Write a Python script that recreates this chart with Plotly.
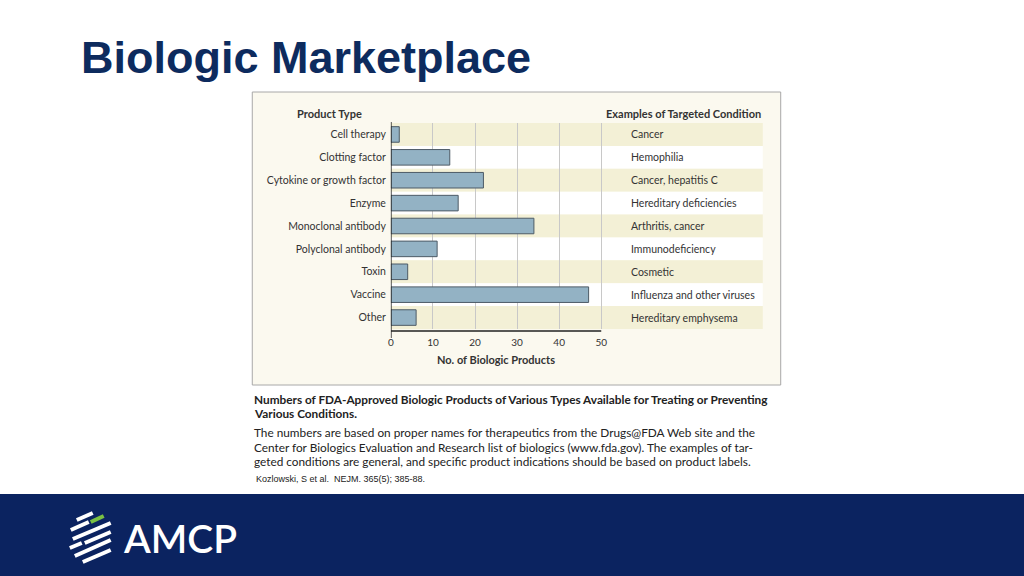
import plotly.graph_objects as go

product_types = ["Cell therapy", "Clotting factor", "Cytokine or growth factor", "Enzyme",
                 "Monoclonal antibody", "Polyclonal antibody", "Toxin", "Vaccine", "Other"]
counts = [2, 14, 22, 16, 34, 11, 4, 47, 6]
conditions = ["Cancer", "Hemophilia", "Cancer, hepatitis C", "Hereditary deficiencies",
              "Arthritis, cancer", "Immunodeficiency", "Cosmetic",
              "Influenza and other viruses", "Hereditary emphysema"]
x_ticks = [0, 10, 20, 30, 40, 50]

W, H = 1024, 576
def px(x): return x / W
def py(y): return 1 - y / H

chart_font = "Lato"
x0, x50, xr = 389, 600, 762
xmax = 50 * (xr - x0) / (x50 - x0)

fig = go.Figure()
fig.add_trace(go.Bar(
    x=counts, y=product_types, orientation="h", width=0.68,
    marker=dict(color="#93b2c4", line=dict(color="#4d5b66", width=1)),
    hoverinfo="x+y",
))

shapes = []
# panel
shapes.append(dict(type="rect", xref="paper", yref="paper", x0=px(250), x1=px(780), y0=py(385), y1=py(92),
                   fillcolor="#fbf9ef", line=dict(color="#a8a8a8", width=1), layer="below"))
# stripes
for i, name in enumerate(product_types):
    fill = "#f3f0d6" if i % 2 == 0 else "#ffffff"
    shapes.append(dict(type="rect", xref="paper", yref="y", x0=px(x0), x1=px(xr), y0=i - 0.5, y1=i + 0.5,
                       fillcolor=fill, line=dict(width=0), layer="below"))
# axis lines
shapes.append(dict(type="line", xref="x", yref="paper", x0=0, x1=50, y0=py(331), y1=py(331),
                   line=dict(color="#222", width=1.5)))
shapes.append(dict(type="line", xref="x", yref="paper", x0=0, x1=0, y0=py(338), y1=py(122),
                   line=dict(color="#222", width=1.5)))
# footer
shapes.append(dict(type="rect", xref="paper", yref="paper", x0=-0.01, x1=1.01, y0=-0.01, y1=py(494),
                   fillcolor="#0b2360", line=dict(width=0)))
# logo stripes
logo = [((74, 520), (90, 513), "white"), ((88, 522), (101, 516), "#7ac143"),
        ((68, 530), (86, 522), "white"), ((70, 539), (108, 523), "white"),
        ((67, 548), (79, 543), "white"), ((82, 543), (108, 532), "white"),
        ((72, 556), (108, 540), "white"), ((80, 562), (108, 550), "white")]
for (a, b, c) in logo:
    shapes.append(dict(type="line", xref="paper", yref="paper", x0=px(a[0]), y0=py(a[1]),
                       x1=px(b[0]), y1=py(b[1]), line=dict(color=c, width=4)))

ann = []
ann.append(dict(text="<b>Biologic Marketplace</b>", x=px(76), y=py(57), xref="paper", yref="paper",
                xanchor="left", yanchor="middle", showarrow=False,
                font=dict(family="Liberation Sans", size=45, color="#0d2b5e")))
ann.append(dict(text="<b>Product Type</b>", x=px(293), y=py(114), xref="paper", yref="paper",
                xanchor="left", yanchor="middle", showarrow=False,
                font=dict(family=chart_font, size=11, color="#333")))
ann.append(dict(text="<b>Examples of Targeted Condition</b>", x=px(762), y=py(114), xref="paper", yref="paper",
                xanchor="right", yanchor="middle", showarrow=False,
                font=dict(family=chart_font, size=11, color="#333")))
for i, c in enumerate(conditions):
    ann.append(dict(text=c, x=px(628), y=product_types[i], xref="paper", yref="y",
                    xanchor="left", yanchor="middle", showarrow=False,
                    font=dict(family=chart_font, size=10.5, color="#333")))
ann.append(dict(text="<b>No. of Biologic Products</b>", x=25, y=py(359), xref="x", yref="paper",
                xanchor="center", yanchor="middle", showarrow=False,
                font=dict(family=chart_font, size=11, color="#333")))
caption = [
    ("<b>Numbers of FDA-Approved Biologic Products of Various Types Available for Treating or Preventing</b>", 399),
    ("<b>Various Conditions.</b>", 413),
    ("The numbers are based on proper names for therapeutics from the Drugs@FDA Web site and the", 432),
    ("Center for Biologics Evaluation and Research list of biologics (www.fda.gov). The examples of tar-", 447),
    ("geted conditions are general, and specific product indications should be based on product labels.", 461),
]
for t, y in caption:
    ann.append(dict(text=t, x=px(250), y=py(y), xref="paper", yref="paper", xanchor="left", yanchor="middle",
                    showarrow=False, font=dict(family=chart_font, size=11.8, color="#222")))
ann.append(dict(text="Kozlowski, S et al.  NEJM. 365(5); 385-88.", x=px(252), y=py(479), xref="paper", yref="paper",
                xanchor="left", yanchor="middle", showarrow=False,
                font=dict(family="Liberation Sans", size=9, color="#222")))
ann.append(dict(text="AMCP", x=px(118), y=py(538), xref="paper", yref="paper", xanchor="left", yanchor="middle",
                showarrow=False, font=dict(family="Lato", size=39, color="white", weight=600)))

fig.update_layout(
    width=W, height=H, margin=dict(l=0, r=0, t=0, b=0),
    paper_bgcolor="white", plot_bgcolor="rgba(0,0,0,0)", showlegend=False,
    shapes=shapes, annotations=ann, bargap=0.3,
    xaxis=dict(domain=[px(x0), px(xr)], range=[0, xmax], tickvals=x_ticks, showgrid=True,
               gridcolor="#c8c8c8", gridwidth=1, zeroline=False, showline=False, ticks="",
               ticklabelstandoff=6, tickfont=dict(family=chart_font, size=10, color="#333")),
    yaxis=dict(domain=[py(329), py(123)], range=[8.5, -0.5], categoryorder="array",
               categoryarray=product_types, showgrid=False, zeroline=False, showline=False,
               ticks="", ticklabelstandoff=4, tickfont=dict(family=chart_font, size=10.5, color="#333")),
)
fig.write_html("out.html", config={"displayModeBar": False},
               post_script="document.body.style.margin='0';document.body.style.overflow='hidden';")
